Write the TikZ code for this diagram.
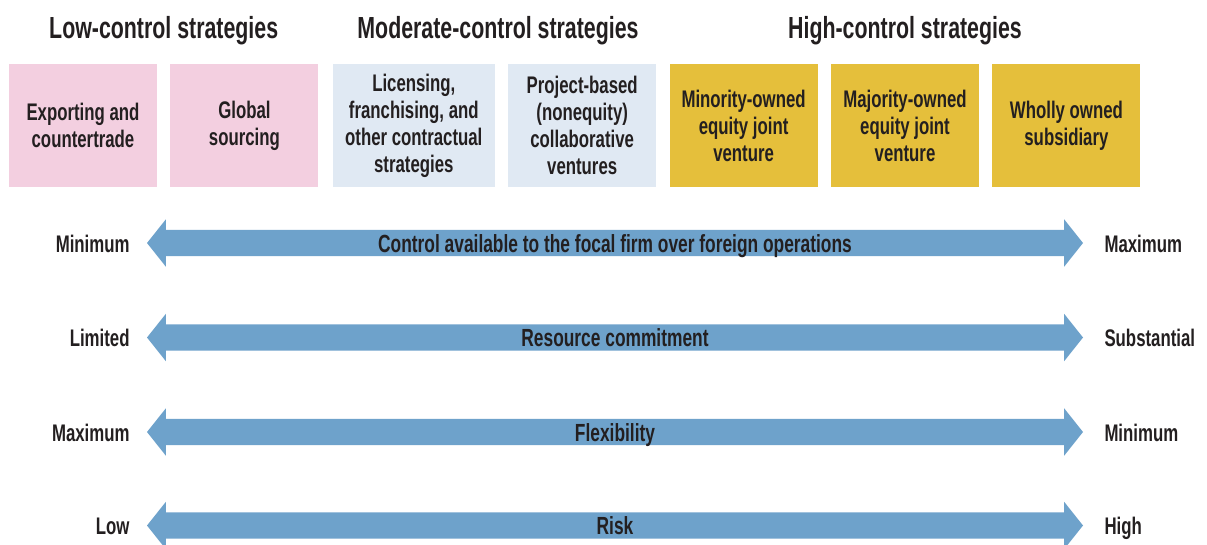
\documentclass[tikz,border=0pt]{standalone}
\usepackage{fontspec}
\setmainfont[FakeStretch=0.7]{Liberation Sans}
\usetikzlibrary{positioning,calc,shapes.arrows}
\definecolor{lowpink}{HTML}{F3CFE0}
\definecolor{modblue}{HTML}{E0E9F3}
\definecolor{highgold}{HTML}{E5BF3B}
\definecolor{arrowblue}{HTML}{6EA2CB}
\definecolor{inkgrey}{HTML}{231F20}

\begin{document}
\begin{tikzpicture}[x=1pt, y=-1pt,
        every node/.style={text=inkgrey, font=\bfseries\fontsize{24}{27}\selectfont},
        box/.style={rectangle, minimum width=148pt, minimum height=123pt, align=center, inner sep=0pt},
        head/.style={inner sep=0pt, text height=21pt, text depth=0pt, font=\bfseries\fontsize{30.5}{32}\selectfont},
        band/.style={double arrow, fill=arrowblue, minimum height=936pt, minimum width=47pt, double arrow head extend=10.5pt, double arrow tip angle=103, text height=20pt, text depth=2pt, inner xsep=0pt, inner ysep=2pt, font=\bfseries\fontsize{24.8}{27}\selectfont},
        side/.style={inner sep=0pt, text height=18pt, text depth=0pt}]
        \useasboundingbox (0,0) rectangle (1207,544);

        % strategy boxes
        \node[box, fill=lowpink] (exp) at (83,125.5) {Exporting and\\countertrade};
        \node[box, fill=lowpink, right=13pt of exp] (glob) {Global\\sourcing};
        \node[box, fill=modblue, minimum width=162pt, right=14pt of glob] (lic) {Licensing,\\franchising, and\\other contractual\\strategies};
        \node[box, fill=modblue, right=13pt of lic] (proj) {Project-based\\(nonequity)\\collaborative\\ventures};
        \node[box, fill=highgold, right=13pt of proj] (minjv) {Minority-owned\\equity joint\\venture};
        \node[box, fill=highgold, right=13pt of minjv] (majjv) {Majority-owned\\equity joint\\venture};
        \node[box, fill=highgold, right=13pt of majjv] (whol) {Wholly owned\\subsidiary};

        % group headings
        \node[head, above=25pt] (lowhd) at ($(exp.north)!0.5!(glob.north)$) {Low-control strategies};
        \node[head, above=25pt] (modhd) at ($(lic.north)!0.5!(proj.north)$) {Moderate-control strategies};
        \node[head, above=25pt] (highhd) at (majjv.north) {High-control strategies};

        % double arrows
        \node[band] (ctrl) at (615,243) {Control available to the focal firm over foreign operations};
        \node[band] (res) at (615,337.5) {Resource commitment};
        \node[band] (flex) at (615,432) {Flexibility};
        \node[band] (risk) at (615,525.5) {Risk};

        \node[side, left=17pt of ctrl] (ctrlmin) {Minimum};
        \node[side, right=21pt of ctrl] (ctrlmax) {Maximum};
        \node[side, left=17pt of res] (reslim) {Limited};
        \node[side, right=21pt of res] (ressub) {Substantial};
        \node[side, left=17pt of flex] (flexmax) {Maximum};
        \node[side, right=21pt of flex] (flexmin) {Minimum};
        \node[side, left=17pt of risk] (risklow) {Low};
        \node[side, right=21pt of risk] (riskhigh) {High};
    \end{tikzpicture}
\end{document}
